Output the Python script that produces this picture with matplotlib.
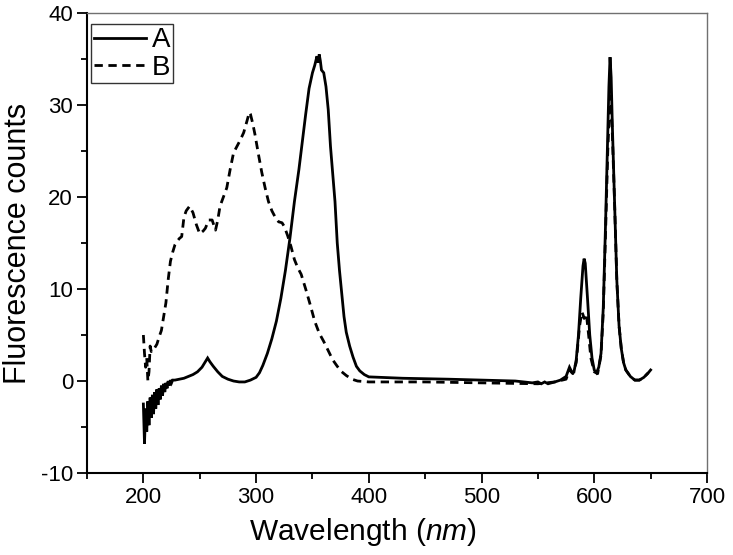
import matplotlib
matplotlib.use("Agg")
import matplotlib.pyplot as plt
from matplotlib.ticker import MultipleLocator

# Series A (solid)
wl_a = [200, 201, 202, 203, 204, 205, 206, 207, 208, 209, 210, 211, 212, 213, 214,
        215, 216, 217, 218, 219, 220, 221, 222, 223, 224, 225, 226, 228, 232, 236,
        240, 244, 248, 252, 255, 257, 259, 262, 266, 270, 275, 280, 285, 290, 295,
        300, 303, 306, 310, 314, 318, 322, 326, 330, 334, 338, 341, 344, 347, 350,
        352, 354, 355, 356, 357, 358, 360, 362, 364, 366, 368, 370, 372, 374,
        376, 378, 380, 383, 386, 389, 392, 396, 400, 430, 470, 500, 530, 545, 550,
        553, 556, 559, 562, 565, 570, 575, 578, 580, 582, 584, 586, 588, 590, 591,
        592, 594, 596, 598, 600, 602, 604, 606, 608, 610, 612, 613, 614, 615, 616,
        618, 620, 622, 624, 626, 628, 632, 636, 640, 644, 648, 650]
val_a = [-2.5, -6.8, -3.0, -5.5, -2.2, -4.8, -1.8, -4.0, -1.5, -3.6, -1.2, -3.0, -0.9, -2.6, -0.8,
         -2.0, -0.5, -1.6, -0.3, -1.2, -0.2, -0.8, 0.0, -0.5, 0.1, -0.2, 0.1, 0.1, 0.2, 0.3,
         0.5, 0.7, 1.0, 1.5, 2.1, 2.5, 2.1, 1.6, 1.0, 0.5, 0.2, 0.0, -0.1, -0.1, 0.1,
         0.4, 0.9, 1.7, 3.0, 4.6, 6.5, 9.0, 12.0, 15.5, 19.5, 23.0, 26.0, 29.0, 31.8, 33.5,
         34.3, 35.3, 34.6, 35.5, 34.8, 33.8, 33.5, 32.0, 29.5, 25.5, 22.5, 19.5, 15.0, 12.0,
         9.5, 7.0, 5.3, 3.8, 2.6, 1.6, 1.1, 0.7, 0.45, 0.3, 0.2, 0.1, 0.0, -0.2, -0.1,
         -0.3, -0.1, -0.3, -0.2, -0.1, 0.1, 0.5, 1.5, 1.0, 1.0, 2.3, 5.0, 9.0, 12.5, 13.3,
         12.8, 9.0, 5.0, 2.5, 1.2, 0.9, 1.5, 3.0, 8.0, 17.0, 27.0, 32.0, 35.2, 33.0, 28.0,
         19.7, 11.0, 6.0, 3.5, 2.0, 1.2, 0.5, 0.1, 0.1, 0.4, 0.9, 1.2]

# Series B (dashed)
wl_b = [200, 201, 202, 203, 204, 205, 206, 207, 208, 210, 212, 214, 216, 218, 220,
        222, 224, 226, 228, 230, 232, 234, 236, 238, 241, 244, 247, 250, 253, 255,
        258, 261, 264, 266, 268, 271, 274, 277, 280, 283, 286, 289, 292, 294, 295,
        297, 299, 302, 305, 308, 311, 314, 317, 320, 323, 325, 328, 331, 334, 337,
        340, 344, 348, 352, 356, 360, 364, 368, 372, 376, 380, 385, 390, 400, 450,
        500, 550, 565, 575, 578, 581, 584, 587, 589, 590, 591, 593, 595, 597, 600,
        603, 606, 608, 610, 612, 614, 615, 616, 618, 620, 622, 624, 626, 628, 632,
        636, 640, 644, 648]
val_b = [5.0, 3.0, 1.5, 2.5, 0.0, 1.0, 3.8, 3.2, 3.5, 3.6, 4.0, 4.8, 5.5, 7.0, 8.5,
         11.0, 13.0, 14.0, 14.8, 15.2, 15.5, 15.7, 17.8, 18.5, 19.0, 18.3, 17.0, 16.0, 16.3, 16.6,
         17.5, 17.5, 16.4, 17.5, 19.0, 20.0, 21.0, 23.0, 24.8, 25.5, 26.2, 27.0, 28.3, 29.2, 29.0,
         28.0, 26.8, 24.7, 22.7, 21.0, 19.5, 18.5, 17.8, 17.3, 17.2, 16.8, 15.8, 14.6, 13.2, 12.3,
         11.6, 10.0, 8.3, 6.5, 5.2, 4.3, 3.3, 2.3, 1.6, 1.0, 0.6, 0.2, 0.0, -0.1, -0.1,
         -0.2, -0.3, -0.1, 0.2, 1.2, 0.8, 2.0, 6.0, 7.5, 7.2, 6.8, 7.3, 5.0, 2.5, 1.0,
         0.8, 2.8, 7.5, 16.0, 25.0, 31.0, 30.0, 27.0, 19.5, 11.0, 6.0, 3.5, 2.0, 1.2, 0.5,
         0.1, 0.1, 0.4, 0.9]

labels = ["A", "B"]

plt.rcParams['font.family'] = ['Liberation Sans', 'DejaVu Sans']
plt.rcParams['axes.unicode_minus'] = False
plt.rcParams['mathtext.fontset'] = 'custom'
plt.rcParams['mathtext.it'] = 'Liberation Sans:italic'
plt.rcParams['mathtext.rm'] = 'Liberation Sans'

fig = plt.figure(figsize=(7.33, 5.55), dpi=100)
ax = fig.add_axes([0.1187, 0.1477, 0.9645 - 0.1187, 0.9766 - 0.1477])

ax.plot(wl_a, val_a, color='black', lw=2.0, solid_joinstyle='miter', label=labels[0])
ax.plot(wl_b, val_b, color='black', lw=2.0, dashes=(3, 2), label=labels[1])

ax.set_xlim(150, 700)
ax.set_ylim(-10, 40)
ax.xaxis.set_major_locator(MultipleLocator(100))
ax.xaxis.set_minor_locator(MultipleLocator(50))
ax.yaxis.set_major_locator(MultipleLocator(10))
ax.yaxis.set_minor_locator(MultipleLocator(5))

ax.tick_params(which='major', direction='out', length=7, width=1.3, labelsize=16, pad=3,
               top=False, right=False)
ax.tick_params(which='minor', direction='out', length=4, width=1.3, top=False, right=False)

for s in ['left', 'bottom']:
    ax.spines[s].set_linewidth(1.5)
    ax.spines[s].set_color('black')
for s in ['top', 'right']:
    ax.spines[s].set_linewidth(1.0)
    ax.spines[s].set_color('#707070')

ax.set_xlabel('Wavelength ($\\mathit{nm}$)', fontsize=21.5)
ax.xaxis.set_label_coords((363 - 87) / 620, -0.093)
ax.set_ylabel('Fluorescence counts', fontsize=22, labelpad=6)

leg = ax.legend(loc='upper left', bbox_to_anchor=(0.006, 0.975), fontsize=20,
                frameon=True, fancybox=False, handlelength=1.9, handletextpad=0.2,
                borderpad=0.1, labelspacing=0.05, borderaxespad=0.0)
leg.get_frame().set_edgecolor('black')
leg.get_frame().set_linewidth(1.0)

fig.savefig('out.png', dpi=100)
